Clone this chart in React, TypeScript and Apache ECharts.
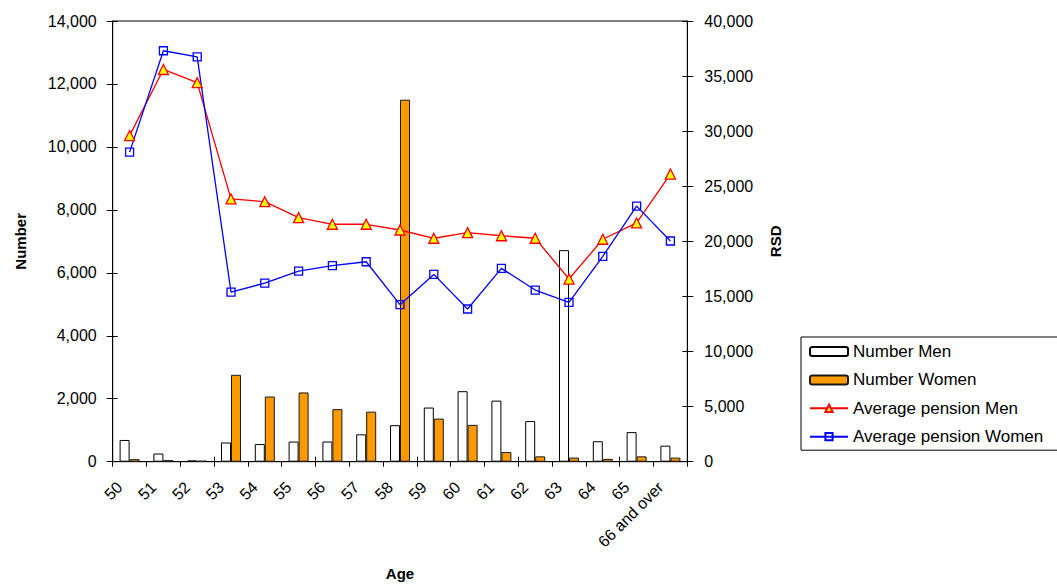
import React, { useEffect, useRef } from "react";
import * as echarts from "echarts";

// Age groups on the category axis
const ages = ["50", "51", "52", "53", "54", "55", "56", "57", "58", "59", "60", "61", "62", "63", "64", "65", "66 and over"];

// Number of pensioners (left axis)
const numberMen = [690, 260, 40, 610, 560, 640, 640, 870, 1160, 1720, 2240, 1940, 1290, 6720, 650, 940, 510];
const numberWomen = [80, 50, 30, 2760, 2070, 2200, 1670, 1590, 11500, 1370, 1170, 310, 170, 130, 90, 170, 130];

// Average pension in RSD (right axis)
const pensionMen = [29600, 35600, 34400, 23850, 23600, 22150, 21550, 21550, 21030, 20280, 20790, 20510, 20280, 16580, 20190, 21670, 26110];
const pensionWomen = [28100, 37300, 36750, 15400, 16200, 17300, 17800, 18150, 14250, 17000, 13860, 17550, 15580, 14470, 18640, 23200, 20030];

const FONT = "'Liberation Sans', Arial, sans-serif";
const fmt = (v: number) => v.toLocaleString("en-US");

export default function App() {
  const ref = useRef<HTMLDivElement>(null);

  useEffect(() => {
    if (!ref.current) return;
    const chart = echarts.init(ref.current, undefined, { renderer: "svg" });

    const tickStyle = { color: "#000", width: 1 };
    const labelStyle = { color: "#000", fontFamily: FONT, fontSize: 16 };
    const nameStyle = { color: "#000", fontFamily: FONT, fontSize: 15, fontWeight: "bold" as const };

    chart.setOption({
      animation: false,
      backgroundColor: "#fff",
      grid: {
        left: 112.7,
        right: 369.7,
        top: 21,
        bottom: 122.3,
        containLabel: false,
        outerBoundsMode: "none",
        show: true,
        borderColor: "#000",
        borderWidth: 1,
      },
      legend: {
        orient: "vertical",
        left: 801,
        top: 337,
        padding: [6, 30, 5, 8],
        itemGap: 11.4,
        itemWidth: 38,
        itemHeight: 9,
        borderColor: "#000",
        borderWidth: 1,
        textStyle: { color: "#000", fontFamily: FONT, fontSize: 17 },
        data: ["Number Men", "Number Women", "Average pension Men", "Average pension Women"],
      },
      xAxis: [
        {
          type: "category",
          data: ages,
          name: "Age",
          nameLocation: "middle",
          nameGap: 104,
          nameTextStyle: nameStyle,
          axisLine: { lineStyle: { color: "#000", width: 1 } },
          axisTick: { show: true, length: 5, lineStyle: tickStyle },
          axisLabel: { ...labelStyle, rotate: 45, interval: 0, margin: 13, padding: [0, 14, 0, 0] },
          splitLine: { show: false },
        },
        {
          type: "category",
          data: ages,
          position: "bottom",
          axisLine: { show: false },
          axisTick: { show: true, inside: true, length: 5, lineStyle: tickStyle },
          axisLabel: { show: false },
          splitLine: { show: false },
        },
      ],
      yAxis: [
        {
          type: "value",
          position: "left",
          min: 0,
          max: 14000,
          interval: 2000,
          name: "Number",
          nameLocation: "middle",
          nameGap: 85,
          nameRotate: 90,
          nameTextStyle: nameStyle,
          axisLine: { show: true, lineStyle: { color: "#000", width: 1 } },
          axisTick: { show: true, length: 6, lineStyle: tickStyle },
          axisLabel: { ...labelStyle, margin: 16, formatter: fmt },
          splitLine: { show: false },
        },
        {
          type: "value",
          position: "right",
          min: 0,
          max: 40000,
          interval: 5000,
          name: "RSD",
          nameLocation: "middle",
          nameGap: 81,
          nameRotate: 90,
          nameTextStyle: nameStyle,
          axisLine: { show: true, lineStyle: { color: "#000", width: 1 } },
          axisTick: { show: true, length: 6, lineStyle: tickStyle },
          axisLabel: { ...labelStyle, margin: 17, formatter: fmt },
          splitLine: { show: false },
        },
        {
          type: "value",
          position: "left",
          min: 0,
          max: 14000,
          interval: 2000,
          axisLine: { show: false },
          axisTick: { show: true, inside: true, length: 5, lineStyle: tickStyle },
          axisLabel: { show: false },
          splitLine: { show: false },
        },
        {
          type: "value",
          position: "right",
          min: 0,
          max: 40000,
          interval: 5000,
          axisLine: { show: false },
          axisTick: { show: true, inside: true, length: 5, lineStyle: tickStyle },
          axisLabel: { show: false },
          splitLine: { show: false },
        },
      ],
      series: [
        {
          name: "Number Men",
          type: "bar",
          xAxisIndex: 0,
          yAxisIndex: 0,
          data: numberMen,
          barWidth: 10,
          barGap: "0%",
          itemStyle: { color: "#ffffff", borderColor: "#000", borderWidth: 1 },
        },
        {
          name: "Number Women",
          type: "bar",
          xAxisIndex: 0,
          yAxisIndex: 0,
          data: numberWomen,
          barWidth: 10,
          barGap: "0%",
          itemStyle: { color: "#ff9900", borderColor: "#1a1a1a", borderWidth: 1 },
        },
        {
          name: "Average pension Men",
          type: "line",
          xAxisIndex: 0,
          yAxisIndex: 1,
          data: pensionMen,
          symbol: "triangle",
          symbolSize: 10,
          lineStyle: { color: "#ff0000", width: 1.3 },
          itemStyle: { color: "#ffff00", borderColor: "#ff0000", borderWidth: 1.3 },
        },
        {
          name: "Average pension Women",
          type: "line",
          xAxisIndex: 0,
          yAxisIndex: 1,
          data: pensionWomen,
          symbol: "rect",
          symbolSize: 8,
          lineStyle: { color: "#0000ff", width: 1.3 },
          itemStyle: { color: "rgba(255,255,255,0)", borderColor: "#0000ff", borderWidth: 1.3 },
        },
      ],
    });

    return () => chart.dispose();
  }, []);

  return (
    <div
      ref={ref}
      style={{ position: "fixed", left: 0, top: 0, width: 1057, height: 584, background: "#fff" }}
    />
  );
}
